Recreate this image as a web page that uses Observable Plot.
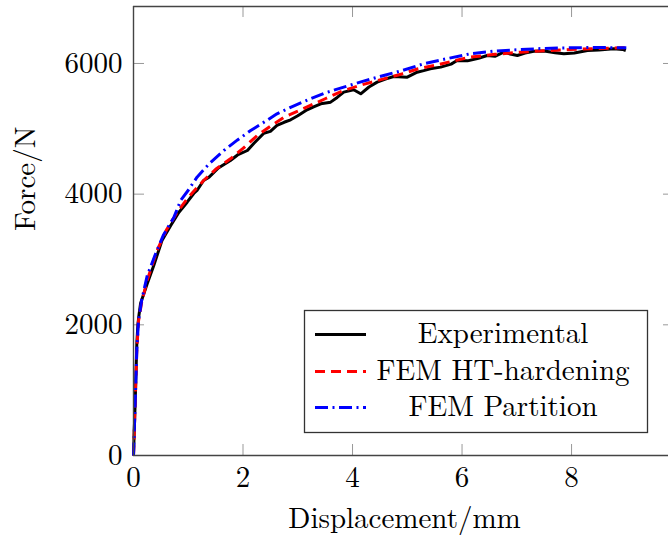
<!DOCTYPE html>
<html><head><meta charset="utf-8">
<script src="https://cdn.jsdelivr.net/npm/d3@7"></script>
<script src="https://cdn.jsdelivr.net/npm/@observablehq/plot@0.6"></script>
<style>
body{margin:0;background:#fff;}
#wrap{position:relative;width:668px;height:538px;overflow:hidden;font-family:'Latin Modern Roman','Liberation Serif',serif;color:#000;}
#wrap svg{position:absolute;left:0;top:0;}
</style></head>
<body><div id="wrap"></div>
<script>
// ---- data ----
const xTicks = [0, 2, 4, 6, 8];
const yTicks = [0, 2000, 4000, 6000];
const xLabel = "Displacement/mm";
const yLabel = "Force/N";
const seriesNames = ["Experimental", "FEM HT-hardening", "FEM Partition"];
const seriesColors = ["#000000", "#ff0000", "#0000ff"];
const seriesDash = [null, "10,6", "13,4.5,2,4.5"];

const expX = [0,0.03,0.06,0.08,0.1,0.13,0.25,0.37,0.52,0.68,0.83,0.98,1.1,1.16,1.28,1.38,1.55,1.77,1.9,2.08,2.2,2.38,2.5,2.62,2.75,2.87,3.0,3.17,3.3,3.42,3.6,3.72,3.84,4.02,4.15,4.3,4.45,4.6,4.75,5.0,5.18,5.3,5.42,5.61,5.8,5.91,6.1,6.3,6.46,6.6,6.76,6.9,7.01,7.15,7.31,7.5,7.7,7.86,8.05,8.29,8.5,8.77,8.93,8.99];
const expY = [0,800,1700,2000,2150,2330,2628,2908,3291,3520,3724,3877,4010,4056,4209,4260,4400,4515,4600,4668,4780,4933,4960,5051,5100,5138,5200,5291,5340,5383,5408,5480,5561,5597,5536,5640,5714,5760,5801,5791,5867,5890,5919,5944,5990,6046,6040,6080,6122,6110,6173,6140,6122,6160,6188,6190,6165,6148,6160,6199,6205,6224,6215,6199];

const htX = [0,0.03,0.06,0.09,0.15,0.25,0.43,0.6,0.8,1.0,1.28,1.5,1.77,2.0,2.26,2.5,2.75,3.0,3.23,3.5,3.84,4.2,4.57,4.9,5.2,5.5,5.8,6.15,6.6,7.07,7.5,7.98,8.5,8.9,9.0];
const htY = [0,800,1600,2050,2350,2680,3138,3450,3724,3950,4209,4380,4541,4700,4898,5040,5179,5270,5358,5460,5587,5680,5765,5840,5920,5970,6030,6097,6140,6173,6195,6214,6230,6240,6240];

const partX = [0,0.03,0.06,0.09,0.15,0.25,0.4,0.55,0.74,0.86,1.0,1.16,1.4,1.65,1.9,2.14,2.4,2.62,2.9,3.23,3.5,3.84,4.2,4.57,4.9,5.3,5.7,6.15,6.6,7.07,7.5,7.98,8.5,8.9,9.0];
const partY = [0,800,1600,2050,2380,2750,3080,3380,3648,3903,4060,4260,4480,4668,4830,4974,5110,5229,5340,5459,5550,5638,5730,5816,5890,5995,6070,6148,6190,6214,6230,6240,6245,6240,6240];

const xMax = 9.88, yMax = 6872;

// ---- build ----
const series = [[expX, expY], [htX, htY], [partX, partY]].map(([xs, ys], i) =>
  xs.map((x, j) => ({x, y: ys[j], s: seriesNames[i]})));

const FONT = "'Latin Modern Roman', 'Liberation Serif', serif";
const L = 133, R = 674, T = 6, B = 455, W = 668, H = 538;
const tickPx = 11;
const dxT = tickPx * xMax / (R - L), dyT = tickPx * yMax / (B - T);
const tickStyle = {stroke: "#999", strokeWidth: 1};
const axisStyle = {stroke: "#444", strokeWidth: 1.4};

const plot = Plot.plot({
  width: W, height: H,
  marginLeft: L, marginTop: T, marginBottom: H - B, marginRight: 0,
  x: {domain: [0, xMax], range: [L, R]},
  y: {domain: [0, yMax], range: [B, T]},
  style: {fontFamily: FONT, fontSize: "29px", background: "#fff", color: "#000"},
  marks: [
    Plot.ruleX(xTicks.filter(d => d > 0), {x: d => d, y1: 0, y2: dyT, ...tickStyle}),
    Plot.ruleX(xTicks.filter(d => d > 0), {x: d => d, y1: yMax - dyT, y2: yMax, ...tickStyle}),
    Plot.ruleY(yTicks.filter(d => d > 0), {y: d => d, x1: 0, x2: dxT, ...tickStyle}),
    Plot.ruleY(yTicks.filter(d => d > 0), {y: d => d, x1: xMax - dxT, x2: xMax, ...tickStyle}),
    ...series.map((data, i) => Plot.line(data, {x: "x", y: "y", stroke: seriesColors[i], strokeWidth: 3,
      strokeDasharray: seriesDash[i], strokeLinejoin: "round", strokeLinecap: "butt"})),
    Plot.ruleX([0, xMax], axisStyle),
    Plot.ruleY([0, yMax], {...axisStyle, x1: 0, x2: xMax}),
    Plot.axisX({ticks: xTicks, tickSize: 0, tickPadding: 11, tickFormat: d => String(d), label: null, fontSize: 29, fontFamily: FONT}),
    Plot.axisY({ticks: yTicks, tickSize: 0, tickPadding: 11, tickFormat: d => String(d), label: null, fontSize: 29, fontFamily: FONT}),
    Plot.text([xLabel], {text: d => d, frameAnchor: "bottom", dy: 63.5, dx: 3.5, lineAnchor: "middle", fontSize: 29, fontFamily: FONT, fill: "#000"}),
    Plot.text([yLabel], {text: d => d, frameAnchor: "left", rotate: -90, dx: -107.5, lineAnchor: "middle", fontSize: 29, fontFamily: FONT, fill: "#000"})
  ]
});

const wrap = document.getElementById("wrap");
wrap.appendChild(plot);

// legend (overlay svg)
const lg = d3.select(wrap).append("svg").attr("width", W).attr("height", H)
  .style("pointer-events", "none").style("font-family", FONT);
lg.append("rect").attr("x", 304.5).attr("y", 310.5).attr("width", 343).attr("height", 122)
  .attr("fill", "#fff").attr("stroke", "#333").attr("stroke-width", 1.3);
const lineYs = [334.5, 371.5, 407.5];
const baseYs = [343, 380, 416];
seriesNames.forEach((name, i) => {
  lg.append("line").attr("x1", 315).attr("x2", 366).attr("y1", lineYs[i]).attr("y2", lineYs[i])
    .attr("stroke", seriesColors[i]).attr("stroke-width", 3)
    .attr("stroke-dasharray", seriesDash[i]);
  lg.append("text").attr("x", 503).attr("y", baseYs[i]).attr("text-anchor", "middle")
    .attr("font-size", 29).attr("fill", "#000").text(name);
});
</script></body></html>
